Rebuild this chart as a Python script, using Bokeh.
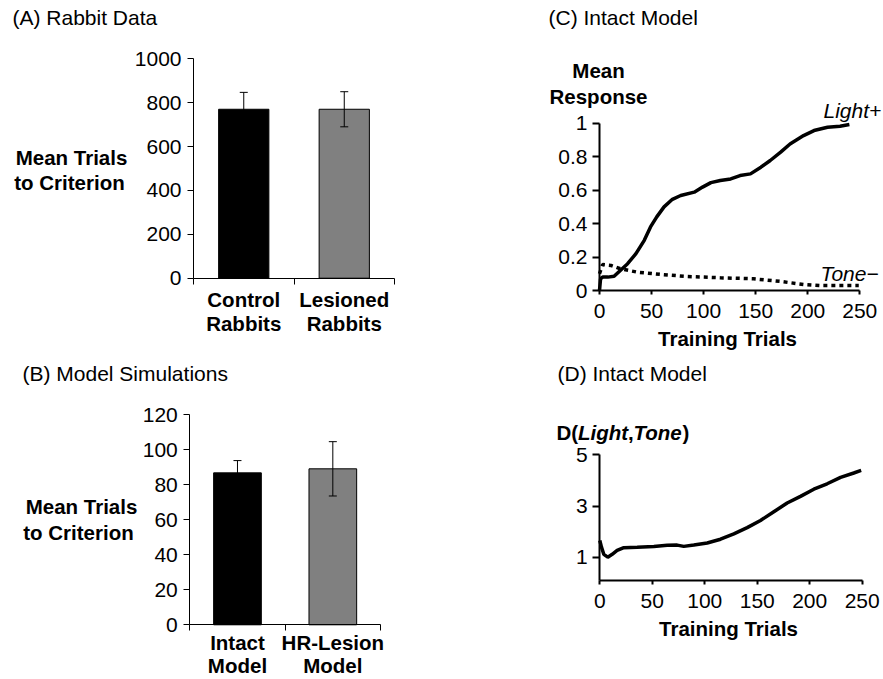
from bokeh.plotting import figure
from bokeh.models import (Range1d, FixedTicker, Label, ColumnDataSource,
                          Whisker, TeeHead, NumeralTickFormatter)
from bokeh.layouts import column, row
from bokeh.embed import file_html
from bokeh.resources import INLINE

# ---------------- data ----------------
rabbit_l1 = ["Control", "Lesioned"]
rabbit_l2 = ["Rabbits", "Rabbits"]
rabbit_means = [770, 770]
rabbit_errs = [77, 80]

model_l1 = ["Intact", "HR-Lesion"]
model_l2 = ["Model", "Model"]
model_means = [86.7, 89.0]
model_errs = [7.0, 15.5]

bar_colors = ["#000000", "#808080"]

rabbit_ticks = [0, 200, 400, 600, 800, 1000]
model_ticks = [0, 20, 40, 60, 80, 100, 120]

light_x = [0, 1, 3, 8, 14, 20, 27, 35, 43, 49, 55, 62, 70, 78, 91, 99, 107, 116, 126,
           135, 145, 155, 164, 174, 183, 196, 206, 219, 231, 240]
light_y = [0.0, 0.07, 0.08, 0.08, 0.085, 0.12, 0.16, 0.22, 0.30, 0.38, 0.44, 0.50,
           0.545, 0.568, 0.588, 0.618, 0.645, 0.657, 0.667, 0.687, 0.697, 0.737,
           0.777, 0.827, 0.876, 0.926, 0.956, 0.976, 0.982, 0.992]

tone_x = [0, 3, 11, 20, 36, 59, 84, 116, 148, 174, 196, 212, 249]
tone_y = [0.10, 0.155, 0.15, 0.13, 0.11, 0.096, 0.084, 0.076, 0.070, 0.054, 0.036,
          0.030, 0.030]

d_x = [0, 1.6, 3.8, 7.6, 11.8, 16.5, 22.9, 35.6, 51.5, 64.2, 73.7, 80, 89.6, 102.3,
       115, 127.7, 140.4, 153.1, 165.8, 178.5, 191.2, 203.9, 216.6, 229.4, 242, 249]
d_y = [1.66, 1.40, 1.12, 1.01, 1.12, 1.27, 1.38, 1.40, 1.43, 1.47, 1.48, 1.43, 1.48,
       1.56, 1.71, 1.92, 2.16, 2.44, 2.78, 3.12, 3.38, 3.66, 3.87, 4.12, 4.29, 4.39]

trial_ticks = [0, 50, 100, 150, 200, 250]
resp_ticks = [0, 0.2, 0.4, 0.6, 0.8, 1]
d_ticks = [1, 3, 5]

# ---------------- style ----------------
FONT = "Liberation Sans"
FS = "21px"      # regular texts
FSB = "20.5px"   # bold texts


class Geo:
    """Panel canvas on the page; the frame fills the canvas, and the axes are
    drawn at fixed data locations. (px0 -> dx0, px1 -> dx1), (py0 -> dy0, py1 -> dy1)
    give where the plotted data box sits on the page."""
    def __init__(self, ox, oy, w, h, px0, px1, dx0, dx1, py0, py1, dy0, dy1):
        self.ox, self.oy, self.w, self.h = ox, oy, w, h
        self.kx = (px1 - px0) / (dx1 - dx0)
        self.ky = (py0 - py1) / (dy1 - dy0)
        self.px0, self.dx0, self.py0, self.dy0 = px0, dx0, py0, dy0
        self.xr = (self.dx(ox), self.dx(ox + w))
        self.yr = (self.dy(oy + h), self.dy(oy))
        self.box = ((dx0, dx1), (dy0, dy1))

    def dx(self, px):
        return self.dx0 + (px - self.px0) / self.kx

    def dy(self, py):
        return self.dy0 + (self.py0 - py) / self.ky


def make_fig(g):
    p = figure(width=g.w, height=g.h, min_border=0, title=None,
               x_range=Range1d(*g.xr), y_range=Range1d(*g.yr),
               output_backend="svg", toolbar_location=None, tools="")
    p.outline_line_color = None
    p.xgrid.visible = False
    p.ygrid.visible = False
    p.background_fill_color = "white"
    p.border_fill_color = "white"
    (bx, by) = g.box
    xa, ya = p.xaxis[0], p.yaxis[0]
    xa.fixed_location = by[0]
    xa.bounds = bx
    ya.fixed_location = bx[0]
    ya.bounds = by
    for ax in (xa, ya):
        ax.major_label_text_font = FONT
        ax.major_label_text_font_size = FS
        ax.major_label_text_color = "black"
        ax.axis_line_color = "black"
        ax.major_tick_line_color = "black"
        ax.minor_tick_line_color = "black"
    return p


def label(p, g, px, py, text, align="left", style="normal"):
    size = FS if style in ("normal", "italic") else FSB
    p.add_layout(Label(x=g.dx(px), y=g.dy(py), text=text, text_align=align,
                       text_baseline="middle", text_font=FONT, text_font_size=size,
                       text_font_style=style, text_color="black"))


def bar_panel(g, means, errs, l1, l2, ticks, title, tpos, ylab_pos, cat_y):
    p = make_fig(g)
    xs = [i + 0.5 for i in range(len(means))]
    src = ColumnDataSource(dict(x=xs, top=means, color=bar_colors,
                                upper=[m + e for m, e in zip(means, errs)],
                                lower=[m - e for m, e in zip(means, errs)]))
    p.vbar(x="x", top="top", width=0.5, source=src, fill_color="color",
           line_color="black", line_width=1)
    p.add_layout(Whisker(base="x", upper="upper", lower="lower", source=src,
                         line_color="black", line_width=1, level="overlay",
                         upper_head=TeeHead(size=8, line_color="black", line_width=1),
                         lower_head=TeeHead(size=8, line_color="black", line_width=1)))
    ya = p.yaxis[0]
    ya.ticker = FixedTicker(ticks=ticks)
    ya.major_tick_out = 6
    ya.major_tick_in = 0
    ya.major_label_standoff = 6
    ya.axis_line_width = 1
    xa = p.xaxis[0]
    xa.ticker = FixedTicker(ticks=[], minor_ticks=[0, 1, 2])
    xa.major_label_text_color = None
    xa.major_tick_out = 0
    xa.minor_tick_out = 6
    xa.minor_tick_in = 0
    for i in range(len(means)):
        for text, yy in ((l1[i], cat_y[0]), (l2[i], cat_y[1])):
            p.add_layout(Label(x=xs[i], y=g.dy(yy), text=text, text_align="center",
                               text_baseline="middle", text_font=FONT,
                               text_font_size=FSB, text_font_style="bold",
                               text_color="black"))
    label(p, g, tpos[0], tpos[1], title)
    label(p, g, ylab_pos[0][0], ylab_pos[0][1], "Mean Trials", "center", "bold")
    label(p, g, ylab_pos[1][0], ylab_pos[1][1], "to Criterion", "center", "bold")
    return p


def line_axes(p, xt, yt, standoff):
    xa, ya = p.xaxis[0], p.yaxis[0]
    xa.ticker = FixedTicker(ticks=xt)
    xa.major_tick_out = 4
    xa.major_tick_in = 0
    xa.major_label_standoff = standoff
    ya.ticker = FixedTicker(ticks=yt)
    ya.major_tick_out = 7
    ya.major_tick_in = 0
    ya.major_label_standoff = 5
    ya.formatter = NumeralTickFormatter(format="0.[0]")
    for ax in (xa, ya):
        ax.axis_line_width = 2
        ax.major_tick_line_width = 2


# ---------------- panel A ----------------
gA = Geo(0, 0, 438, 352, 193, 394, 0, 2, 277.7, 58.3, 0, 1000)
pA = bar_panel(gA, rabbit_means, rabbit_errs, rabbit_l1, rabbit_l2, rabbit_ticks,
               "(A) Rabbit Data", (12, 17), ((71, 157), (69, 182)), (299, 323))

# ---------------- panel B ----------------
gB = Geo(0, 352, 438, 327, 189.3, 380, 0, 2, 624.3, 414, 0, 120)
pB = bar_panel(gB, model_means, model_errs, model_l1, model_l2, model_ticks,
               "(B) Model Simulations", (22, 373), ((81, 506), (78, 532)), (642, 665))

# ---------------- panel C ----------------
gC = Geo(438, 0, 445, 352, 599, 859.3, 0, 250, 290, 122.7, 0, 1)
pC = make_fig(gC)
line_axes(pC, trial_ticks, resp_ticks, 9)
pC.line(light_x, light_y, line_color="black", line_width=3.5)
pC.line(tone_x, tone_y, line_color="black", line_width=3.5, line_dash="4 4")
label(pC, gC, 548, 17, "(C) Intact Model")
label(pC, gC, 598, 70, "Mean", "center", "bold")
label(pC, gC, 598, 96, "Response", "center", "bold")
label(pC, gC, 727, 338, "Training Trials", "center", "bold")
label(pC, gC, 823, 110, "Light+", "left", "italic")
label(pC, gC, 820, 273, "Tone\u2212", "left", "italic")

# ---------------- panel D ----------------
gD = Geo(438, 352, 445, 327, 599.3, 861.7, 0, 250, 580, 454.3, 0.1, 5)
pD = make_fig(gD)
line_axes(pD, trial_ticks, d_ticks, 9)
pD.line(d_x, d_y, line_color="black", line_width=3.5)
label(pD, gD, 557, 373, "(D) Intact Model")
label(pD, gD, 728, 628, "Training Trials", "center", "bold")
label(pD, gD, 556, 432, "D(", "left", "bold")
label(pD, gD, 577.5, 432, "Light", "left", "bold italic")
label(pD, gD, 627.5, 432, ",", "left", "bold")
label(pD, gD, 633, 432, "Tone", "left", "bold italic")
label(pD, gD, 682, 432, ")", "left", "bold")

layout = column(row(column(pA), column(pC)), row(column(pB), column(pD)))
open("out.html", "w").write(file_html(layout, INLINE))
